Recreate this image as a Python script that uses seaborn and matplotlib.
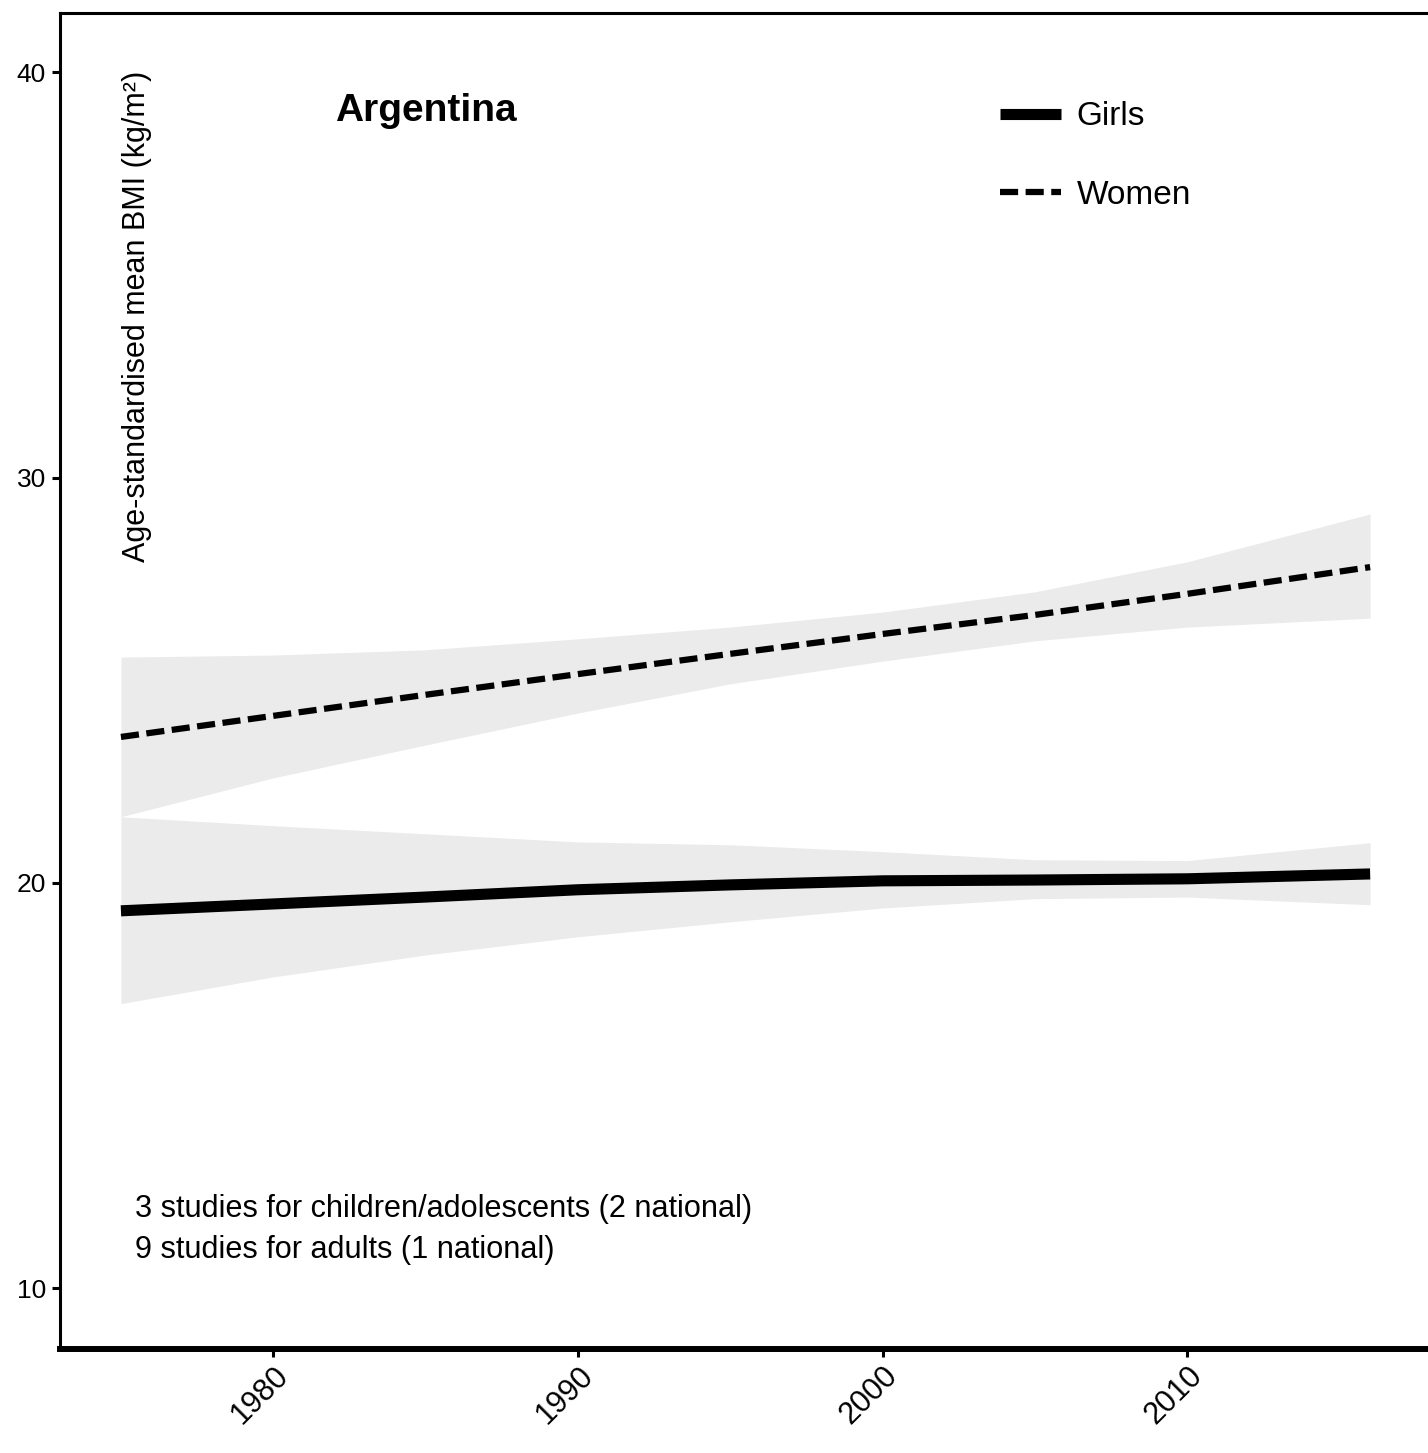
import matplotlib
matplotlib.use("Agg")
import matplotlib.pyplot as plt
import pandas as pd
import seaborn as sns

# values (BMI, kg/m2)
years = [1975, 1980, 1985, 1990, 1995, 2000, 2005, 2010, 2016]

girls_mean = [19.31, 19.48, 19.65, 19.83, 19.95, 20.05, 20.07, 20.10, 20.22]
girls_low = [17.02, 17.68, 18.22, 18.67, 19.04, 19.38, 19.61, 19.65, 19.46]
girls_high = [21.63, 21.41, 21.21, 21.01, 20.94, 20.77, 20.57, 20.55, 20.99]

women_mean = [23.60, 24.12, 24.64, 25.15, 25.65, 26.14, 26.61, 27.13, 27.79]
women_low = [21.63, 22.59, 23.40, 24.19, 24.91, 25.47, 25.97, 26.31, 26.53]
women_high = [25.57, 25.62, 25.75, 26.02, 26.31, 26.68, 27.18, 27.92, 29.10]

country = "Argentina"
study_notes = ["3 studies for children/adolescents (2 national)",
               "9 studies for adults (1 national)"]
y_ticks = [10, 20, 30, 40]
x_ticks = [1980, 1990, 2000, 2010]

# long form table for seaborn
df = pd.concat([
    pd.DataFrame({"year": years, "bmi": girls_mean, "group": "Girls"}),
    pd.DataFrame({"year": years, "bmi": women_mean, "group": "Women"}),
])

sns.set_style("ticks")
plt.rcParams["font.family"] = ["Liberation Sans", "DejaVu Sans"]
plt.rcParams["text.color"] = "black"
plt.rcParams["axes.edgecolor"] = "black"

fig = plt.figure(figsize=(14.28, 14.53), dpi=100)
ax = fig.add_axes([60 / 1428, 104 / 1453, 1368 / 1428, 1336 / 1453])

# uncertainty ribbons
ax.fill_between(years, girls_low, girls_high, color="#EBEBEB", lw=0, zorder=1)
ax.fill_between(years, women_low, women_high, color="#EBEBEB", lw=0, zorder=1)

sns.lineplot(data=df, x="year", y="bmi", hue="group", style="group", size="group",
             palette={"Girls": "black", "Women": "black"},
             dashes={"Girls": "", "Women": (2.9, 1.2)},
             sizes={"Girls": 8, "Women": 4.5},
             ax=ax, zorder=3)
for ln in ax.get_lines():
    ln.set_solid_capstyle("butt")
    ln.set_dash_capstyle("butt")

ax.set_xlim(1973.0, 2017.9)
ax.set_ylim(8.5, 41.46)
ax.set_xticks(x_ticks)
ax.set_yticks(y_ticks)
ax.set_xlabel("")
ax.set_ylabel("")

ax.spines["right"].set_visible(False)
ax.spines["top"].set_linewidth(2.2)
ax.spines["left"].set_linewidth(2.2)
ax.spines["bottom"].set_linewidth(4.3)
ax.tick_params(axis="y", length=6, width=2.2, pad=4, labelsize=19,
               colors="black")
ax.tick_params(axis="x", length=5.5, width=2.2, pad=3, labelsize=22,
               colors="black")
for lab in ax.get_xticklabels():
    lab.set_rotation(45)
    lab.set_ha("right")
    lab.set_va("top")
    lab.set_rotation_mode("anchor")

ax.text(0.0563, 0.957, "Age-standardised mean BMI (kg/m²)", transform=ax.transAxes,
        rotation=90, ha="center", va="top", fontsize=22)
ax.text(0.201, 0.927, country, transform=ax.transAxes, ha="left", va="center",
        fontsize=28, fontweight="bold")
ax.text(0.0548, 0.1048, study_notes[0], transform=ax.transAxes, ha="left", va="center",
        fontsize=22.05)
ax.text(0.0548, 0.0741, study_notes[1], transform=ax.transAxes, ha="left", va="center",
        fontsize=22.05)

leg = ax.legend(loc="upper left", bbox_to_anchor=(0.687, 0.934), frameon=False,
                fontsize=24, handlelength=1.85, handletextpad=0.45, labelspacing=1.42,
                borderpad=0, borderaxespad=0, title=None)

fig.savefig("out.png", dpi=100)
